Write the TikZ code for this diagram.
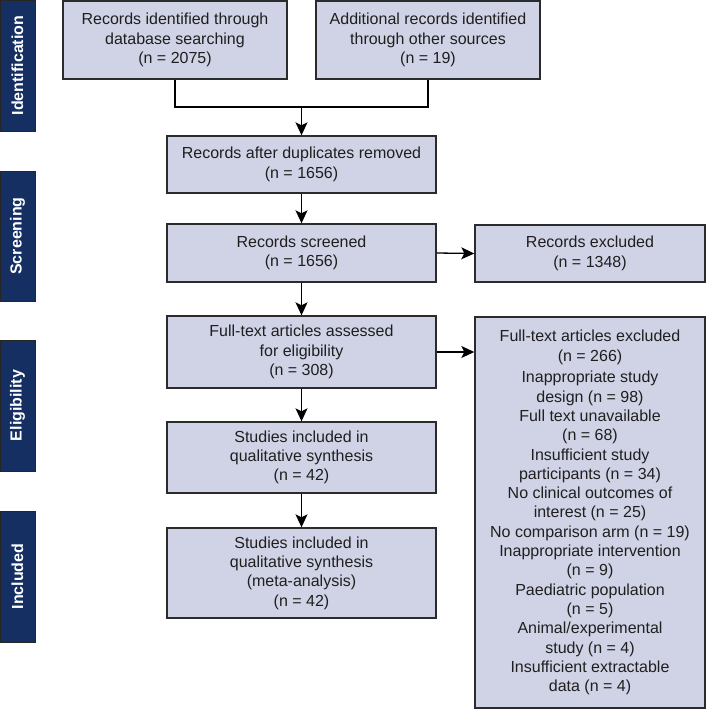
\documentclass[tikz,border=0pt]{standalone}
\usepackage{fontspec}
\setmainfont{Liberation Sans}
\usetikzlibrary{arrows.meta}
\definecolor{boxfill}{HTML}{D0D3E6}
\definecolor{navy}{HTML}{152F62}
\definecolor{edge}{HTML}{2B2B2B}
\tikzset{
  flowbox/.style={draw=edge, line width=1.4pt, fill=boxfill, inner sep=0pt, align=center,
    font=\fontsize{16}{19.3}\selectfont, text=black!88},
  phase/.style={draw=black!85, line width=1pt, fill=navy, inner sep=0pt, rotate=90,
    font=\fontsize{16}{19}\selectfont\bfseries, text=white},
  conn/.style={draw=black, line width=1.3pt},
  arr/.style={conn, -{Stealth[length=13pt,width=12pt,inset=3pt]}}
}
\begin{document}
\begin{tikzpicture}[x=1pt,y=1pt]
\useasboundingbox (0,0) rectangle (706,-710);
% phase bars
\node[phase, minimum width=131pt, minimum height=35pt] (pid) at (17.5,-65.5) {Identification};
\node[phase, minimum width=130pt, minimum height=35pt] (psc) at (17.5,-236) {Screening};
\node[phase, minimum width=131pt, minimum height=35pt] (pel) at (17.5,-405.5) {Eligibility};
\node[phase, minimum width=131pt, minimum height=35pt] (pin) at (17.5,-576.5) {Included};
% boxes
\node[flowbox, minimum width=224pt, minimum height=78pt] (id1) at (175,-40)
  {Records identified through\\database searching\\(n = 2075)};
\node[flowbox, minimum width=224pt, minimum height=78pt] (id2) at (428,-40)
  {Additional records identified\\through other sources\\(n = 19)};
\node[flowbox, minimum width=269pt, minimum height=57pt] (dup) at (301.5,-164.5)
  {Records after duplicates removed\\(n = 1656)};
\node[flowbox, minimum width=269pt, minimum height=58pt] (scr) at (301.5,-253)
  {Records screened\\(n = 1656)};
\node[flowbox, minimum width=230pt, minimum height=57pt] (exc) at (590,-253.5)
  {Records excluded\\(n = 1348)};
\node[flowbox, minimum width=269pt, minimum height=72pt] (full) at (301.5,-352)
  {Full-text articles assessed\\for eligibility\\(n = 308)};
\node[flowbox, minimum width=230pt, minimum height=391pt] (ftx) at (590,-512.5)
  {Full-text articles excluded\\(n = 266)\\[2.5pt]
   Inappropriate study\\design (n = 98)\\Full text unavailable\\(n = 68)\\
   Insufficient study\\participants (n = 34)\\No clinical outcomes of\\interest (n = 25)\\
   No comparison arm (n = 19)\\Inappropriate intervention\\(n = 9)\\
   Paediatric population\\(n = 5)\\Animal/experimental\\study (n = 4)\\
   Insufficient extractable\\data (n = 4)};
\node[flowbox, minimum width=269pt, minimum height=71pt] (qual) at (301.5,-457.5)
  {Studies included in\\qualitative synthesis\\(n = 42)};
\node[flowbox, minimum width=269pt, minimum height=90pt] (meta) at (301.5,-573)
  {Studies included in\\qualitative synthesis\\(meta-analysis)\\(n = 42)};
% connectors
\coordinate (join) at (301.5,-107);
\draw[conn] (id1.south) |- (join) -| (id2.south);
\draw[arr] (join) -- (dup.north);
\draw[arr] (dup.south) -- (scr.north);
\draw[arr] (scr.east) -- (exc.west);
\draw[arr] (scr.south) -- (full.north);
\draw[arr] (full.east) -- (full.east -| ftx.west);
\draw[arr] (full.south) -- (qual.north);
\draw[arr] (qual.south) -- (meta.north);
\end{tikzpicture}
\end{document}
